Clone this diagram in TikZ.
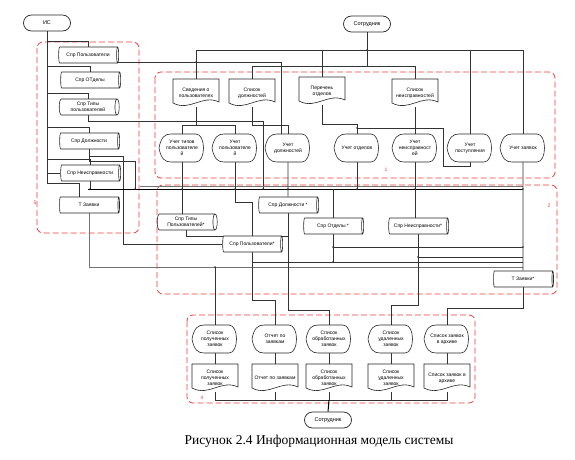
\documentclass[tikz,border=0pt]{standalone}
\usepackage{fontspec}
\setmainfont{Liberation Sans}
\newfontfamily\capfont{Liberation Serif}
\usetikzlibrary{shapes.geometric,shapes.misc,calc,backgrounds}

\definecolor{zonered}{RGB}{238,60,60}
\tikzset{
  shp/.style={draw=black!85, line width=0.6pt, fill=white},
  lbl/.style={align=center, inner sep=0pt, minimum width=46pt, minimum height=28pt, font=\fontsize{5}{6}\selectfont},
  term/.style={rounded rectangle, draw=black!85, line width=0.7pt, fill=white, minimum width=47pt, minimum height=16pt, inner sep=0pt, font=\fontsize{5.5}{6.5}\selectfont},
  drum/.style={cylinder, shape aspect=0.45, draw=black!85, line width=0.6pt, fill=white, minimum height=60pt, minimum width=16pt, inner sep=0pt, align=center, font=\fontsize{5}{6}\selectfont},
  ln/.style={draw=black!80, line width=0.6pt},
  gln/.style={draw=black!55, line width=0.6pt},
  bus/.style={draw=black, line width=1pt},
  zone/.style={draw=zonered, dash pattern=on 6pt off 3pt, line width=0.8pt, rounded corners=6pt},
  zlabel/.style={text=zonered, font=\fontsize{5}{6}\selectfont, inner sep=0pt},
  jn/.style={fill=black!80}
}

\newcommand\docnode[4]{%
  \draw[shp] ({#2-23},{#3-14}) -- ({#2+23},{#3-14}) -- ({#2+23},{#3+9})
    .. controls ({#2+6},{#3+1}) and ({#2-6},{#3+19}) .. ({#2-23},{#3+10}) -- cycle;
  \node[lbl] (#1) at (#2,#3) {#4};
}
\newcommand\dispnode[4]{%
  \draw[shp] ({#2-23},#3) .. controls ({#2-21},{#3-11}) and ({#2-17},{#3-14}) .. ({#2-11},{#3-14})
    -- ({#2+14},{#3-14}) .. controls ({#2+24},{#3-14}) and ({#2+24},{#3+14}) .. ({#2+14},{#3+14})
    -- ({#2-11},{#3+14}) .. controls ({#2-17},{#3+14}) and ({#2-21},{#3+11}) .. ({#2-23},#3) -- cycle;
  \node[lbl] (#1) at (#2,#3) {#4};
}

\begin{document}
\begin{tikzpicture}[x=1pt, y=-1pt]
\useasboundingbox (0,0) rectangle (575,460);

\node[term] (is) at (47,23) {ИС};
\node[term] (sotr) at (367,24) {Сотрудник};
\node[term] (sotrb) at (328,420) {Сотрудник};

\node[drum] (sprpolz) at (88,55) {Спр Пользователи};
\node[drum] (sprotd) at (90,80) {Спр ОТделы};
\node[drum] (sprtip) at (88,107) {Спр Типы\\пользователей};
\node[drum] (sprdol) at (89,141) {Спр Должности};
\node[drum] (sprneis) at (90,173) {Спр Неисправности};
\node[drum] (tzayv) at (89,205) {Т Заявки};

\node[drum] (sprtip2) at (186,222) {Спр Типы\\Пользователей*};
\node[drum] (sprdol2) at (288,205) {Спр Должности *};
\node[drum] (sprotd2) at (333,226) {Спр Отделы *};
\node[drum] (sprpolz2) at (252,244) {Спр Пользователи*};
\node[drum] (sprneis2) at (418,226) {Спр Неисправности*};
\node[drum] (tzayv2) at (523,279) {Т Заявки*};

\docnode{sved}{196}{93}{Сведения о\\пользователях}
\docnode{spdol}{252}{93}{Список\\должностей}
\docnode{perotd}{322}{91}{Перечень\\отделов}
\docnode{spneis}{415}{93}{Список\\неисправностей}

\dispnode{uchtip}{182}{148}{Учет типов\\пользователе\\й}
\dispnode{uchpolz}{235}{148}{Учет\\пользователе\\й}
\dispnode{uchdol}{288}{148}{Учет\\должностей}
\dispnode{uchotd}{357}{148}{Учет отделов}
\dispnode{uchneis}{415}{148}{Учет\\неисправност\\ей}
\dispnode{uchpost}{470}{148}{Учет\\поступления}
\dispnode{uchzayv}{523}{148}{Учет заявок}

\dispnode{dpol}{215}{339}{Список\\полученных\\заявок}
\dispnode{dotch}{275}{339}{Отчет по\\заявкам}
\dispnode{dobr}{329}{339}{Список\\обработанных\\заявок}
\dispnode{dudal}{391}{339}{Список\\удаленных\\заявок}
\dispnode{darch}{447}{339}{Список заявок\\в архиве}

\docnode{rpol}{215}{378}{Список\\полученных\\заявок}
\docnode{rotch}{275}{378}{Отчет по заявкам}
\docnode{robr}{329}{378}{Список\\обработанных\\заявок}
\docnode{rudal}{391}{378}{Список\\удаленных\\заявок}
\docnode{rarch}{447}{378}{Список заявок в\\архиве}

\node[zlabel] (z1) at (386,170) {1};
\node[zlabel] (z2) at (549,206) {2};
\node[zlabel] (z4) at (202,398) {4};
\node[zlabel] (z5) at (35,203) {5};

\node[font=\capfont\fontsize{13.5}{15}\selectfont, inner sep=0pt] (cap) at (319,441) {Рисунок 2.4 Информационная модель системы};

\coordinate (yS) at (0,50);
\coordinate (yT) at (0,66);
\coordinate (y62) at ($(sprpolz.center)+(0,7)$);
\coordinate (y125) at (0,125);
\coordinate (busL) at (88,189);
\coordinate (busR) at (523,189);
\coordinate (b135) at (135,189);
\coordinate (b263) at (263,189);
\coordinate (y202) at (0,202);
\coordinate (k1) at (288,236);
\coordinate (c443) at (443,128);
\coordinate (r247) at (523,247);
\coordinate (r257) at (523,257);
\coordinate (r262) at (523,262);
\coordinate (r267) at (523,267);
\coordinate (y300) at (0,300);
\coordinate (y305) at (0,305);
\coordinate (y308) at (0,308);
\coordinate (y310) at (0,310);
\coordinate (yB) at (0,400);

\begin{scope}[on background layer]
\draw[zone] (37,42) rectangle (139,233);
\draw[zone] (155,72) rectangle (555,178);
\draw[zone] (157,185) rectangle (557,294);
\draw[zone] (187,315) rectangle (475,403);

% ИС and the left drums
\draw[ln] (is.south) -- ++(0,152) -| ($(tzayv.north)+(-10,0)$);
\foreach \s in {sprpolz,sprotd,sprtip,sprdol,sprneis}
  \draw[ln] (\s.north) -- ++(0,-5) -| (is.south);
\draw[ln] (sprneis.west) -| (is.south);
\draw[ln] (y62) -| ($(uchdol.north)+(-7,0)$);
\draw[ln] (sprtip.south) -- ++(0,6) -| (b263);
\draw[ln] (sprdol.south) -- ++(0,7) -- ++(34,0) |- (sprpolz2.west);
\draw[ln] (sprdol.south) -- ++(0,12) -| (b135);
\draw[ln] (sprneis.south) -- (sprneis.south |- busL);
\draw[bus] (busL) -- (busR);
\draw[gln] ($(busL)+(52,-3)$) -- ($(busR)+(0,-3)$);
\draw[gln] (tzayv.south) |- (r267);

% Сотрудник, top
\draw[ln] (sotr.south) -- (sotr.south |- yT);
\draw[ln] (sved.north |- yS) -- (uchzayv.north |- yS);
\foreach \s in {sved,perotd,uchpost,uchzayv}
  \draw[ln] (\s.north |- yS) -- (\s.north);
\draw[ln] (spdol.north |- yT) -- (spneis.north |- yT);
\foreach \s in {spdol,spneis}
  \draw[ln] (\s.north |- yT) -- (\s.north);
\draw[ln] (uchzayv.south) -- (tzayv2.north);

% region 1
\draw[ln] (sved.south) -- (sved.south |- y125);
\draw[ln] (uchtip.north |- y125) -- (uchpolz.north |- y125);
\foreach \s in {uchtip,uchpolz}
  \draw[ln] (\s.north |- y125) -- (\s.north);
\draw[ln] (spdol.south) -- ++(0,18) -| (uchdol.north);
\draw[ln] (perotd.south) -- ++(0,19) -| (uchotd.north);
\draw[ln] (uchpost.south) -- ++(0,4) -| (c443) -- (uchotd.north |- c443);
\draw[ln] (spneis.south) -- (uchneis.north);

% region 2
\draw[ln] (uchtip.south) -- (uchtip.south |- sprtip2.north);
\draw[ln] (uchpolz.south) -- (uchpolz.south |- y202) -| (sprpolz2.north);
\draw[ln] (uchdol.south) -- (sprdol2.north);
\draw[ln] (uchotd.south) -- (uchotd.south |- busL);
\draw[ln] (sprotd2.north |- busL) -- (sprotd2.north);
\draw[ln] (uchneis.south) -- (uchneis.south |- sprneis2.north);
\draw[ln] (sprtip2.south) |- (k1);
\draw[ln] (sprdol2.south) -- (sprdol2.south |- y310) -| (dobr.north);
\draw[ln] (sprpolz2.south) -- (sprpolz2.south |- y300) -| (dotch.north);
\draw[ln] (sprpolz2.south |- r262) -- (r262);
\draw[ln] (sprotd2.south) -- (sprotd2.south |- r262);
\draw[ln] (sprotd2.south |- r247) -- (r247);
\draw[ln] (sprneis2.south |- r257) -- (r257);
\draw[ln] (sprneis2.south) -- (sprneis2.south |- y305) -| (dudal.north);
\draw[ln] (tzayv2.south) -- (tzayv2.south |- y308) -| (darch.north);
\draw[ln] (dpol.north) -- (dpol.north |- r267);

% region 4
\foreach \a/\b in {dpol/rpol,dotch/rotch,dobr/robr,dudal/rudal,darch/rarch}
  \draw[ln] (\a.south) -- (\b.north);
\draw[ln] (rpol.south) |- (rarch.south |- yB) -- (rarch.south);
\foreach \s in {rotch,robr,rudal}
  \draw[ln] (\s.south) -- (\s.south |- yB);
\draw[bus] (robr.south |- yB) -- (sotrb.north);

\foreach \s in {uchtip,uchpolz,uchdol,uchotd,uchneis,uchzayv,sprneis}
  \fill[jn] (\s.south |- busL) circle (0.9pt);
\fill[jn] (b135) circle (0.9pt);
\fill[jn] (b263) circle (0.9pt);
\fill[jn] (sotr.south |- yS) circle (0.9pt);
\fill[jn] (sved.north |- y62) circle (0.9pt);
\fill[jn] (uchotd.north |- c443) circle (0.9pt);
\fill[jn] (sprotd2.south |- r247) circle (0.9pt);
\fill[jn] (sprotd2.south |- r262) circle (0.9pt);
\fill[jn] (sprneis2.south |- r257) circle (0.9pt);
\fill[jn] (dpol.north |- r267) circle (0.9pt);
\fill[jn] (uchzayv.south |- r247) circle (0.9pt);
\end{scope}
\end{tikzpicture}
\end{document}
